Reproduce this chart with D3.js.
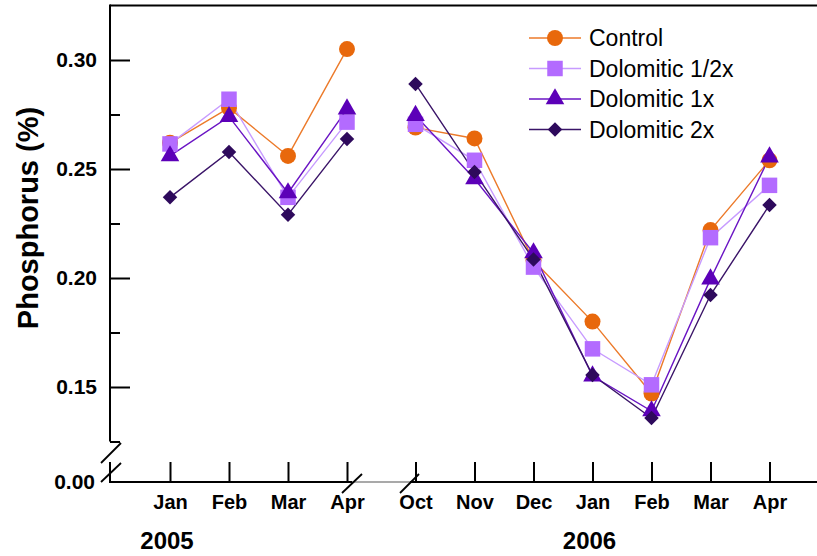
<!DOCTYPE html>
<html>
<head>
<meta charset="utf-8">
<script src="https://cdn.jsdelivr.net/npm/d3@7"></script>
<style>
  html, body { margin: 0; padding: 0; background: #fff; }
  svg { display: block; font-family: "Liberation Sans", Arial, Helvetica, sans-serif; }
</style>
</head>
<body>
<svg id="chart" width="817" height="556"></svg>
<script>
// ---- data ----
const months = ["Jan","Feb","Mar","Apr","Oct","Nov","Dec","Jan","Feb","Mar","Apr"];
const years = ["2005","2006"];
const yearStartIndex = [0, 7];
const seriesNames = ["Control","Dolomitic 1/2x","Dolomitic 1x","Dolomitic 2x"];
const control  = [0.262, 0.278, 0.256, 0.305, 0.269, 0.264, 0.208, 0.180, 0.147, 0.222, 0.254];
const dolHalf  = [0.2615, 0.282, 0.237, 0.2715, 0.2705, 0.254, 0.205, 0.1675, 0.151, 0.2185, 0.2425];
const dolOne   = [0.256, 0.274, 0.239, 0.2775, 0.2745, 0.2455, 0.2115, 0.155, 0.139, 0.1995, 0.2555];
const dolTwo   = [0.237, 0.2578, 0.229, 0.2638, 0.289, 0.2486, 0.2085, 0.1555, 0.1358, 0.1922, 0.2335];
const majorTicks = [0.15, 0.20, 0.25, 0.30];
const minorTicks = [0.125, 0.175, 0.225, 0.275];
const lowerTicks = [0.00];

// ---- styles ----
const styles = [
  {values: control, marker: "#e8680c", line: "#ec7a2a", symbol: d3.symbolCircle, size: 200, rot: 0},
  {values: dolHalf, marker: "#b36bff", line: "#c79bff", symbol: d3.symbolSquare, size: 240, rot: 0},
  {values: dolOne,  marker: "#5c00b8", line: "#6a14c4", symbol: d3.symbolTriangle, size: 150, rot: 0},
  {values: dolTwo,  marker: "#2e0a5c", line: "#3a1468", symbol: d3.symbolSquare, size: 105, rot: 45}
];

const svg = d3.select("#chart");
const axisX0 = 110, axisY0 = 482, rightEdge = 817, topY = 5.5;

// scales
const y = d3.scaleLinear().domain([0.125, 0.325]).range([441.5, topY]);
const yLow = d3.scaleLinear().domain([0, 0.005]).range([axisY0, 462]);
const x = d3.scaleLinear().domain([0, 3, 4, 10]).range([170, 347, 415.5, 769.5]);

const black = "#000";

// frame top line
svg.append("line").attr("x1", axisX0).attr("x2", rightEdge).attr("y1", topY).attr("y2", topY)
  .attr("stroke", black).attr("stroke-width", 2);

// y axis upper segment
svg.append("line").attr("x1", axisX0).attr("x2", axisX0).attr("y1", topY - 1).attr("y2", y(0.125))
  .attr("stroke", black).attr("stroke-width", 2);
// y axis lower segment
svg.append("line").attr("x1", axisX0).attr("x2", axisX0).attr("y1", 462).attr("y2", axisY0 + 1)
  .attr("stroke", black).attr("stroke-width", 2);

const yAxisMajor = d3.axisLeft(y).tickValues(majorTicks).tickFormat(d3.format(".2f"))
  .tickSizeInner(-20).tickSizeOuter(0).tickPadding(13);
const gy = svg.append("g").attr("transform", `translate(${axisX0},0)`).call(yAxisMajor);
gy.select(".domain").remove();
gy.selectAll(".tick line").attr("stroke", black).attr("stroke-width", 2);
gy.selectAll(".tick text").attr("font-size", 21).attr("font-weight", "bold").attr("fill", black);

const yAxisMinor = d3.axisLeft(y).tickValues(minorTicks).tickFormat("").tickSizeInner(-10).tickSizeOuter(0);
const gym = svg.append("g").attr("transform", `translate(${axisX0},0)`).call(yAxisMinor);
gym.select(".domain").remove();
gym.selectAll(".tick line").attr("stroke", black).attr("stroke-width", 2);

const yAxisLow = d3.axisLeft(yLow).tickValues(lowerTicks).tickFormat(d3.format(".2f"))
  .tickSizeInner(0).tickSizeOuter(0).tickPadding(15);
const gyl = svg.append("g").attr("transform", `translate(${axisX0},0)`).call(yAxisLow);
gyl.select(".domain").remove();
gyl.selectAll(".tick text").attr("font-size", 21).attr("font-weight", "bold").attr("fill", black);

// x axis line (with break)
svg.append("line").attr("x1", axisX0 - 1).attr("x2", 352).attr("y1", axisY0).attr("y2", axisY0)
  .attr("stroke", black).attr("stroke-width", 2);
svg.append("line").attr("x1", 352).attr("x2", 410).attr("y1", axisY0).attr("y2", axisY0)
  .attr("stroke", "#555").attr("stroke-width", 1.2);
svg.append("line").attr("x1", 410).attr("x2", rightEdge).attr("y1", axisY0).attr("y2", axisY0)
  .attr("stroke", black).attr("stroke-width", 2);

const xAxis = d3.axisBottom(x).tickValues(d3.range(months.length)).tickFormat(i => months[i])
  .tickSizeInner(-20).tickSizeOuter(0).tickPadding(13);
const gx = svg.append("g").attr("transform", `translate(0,${axisY0})`).call(xAxis);
gx.select(".domain").remove();
gx.selectAll(".tick line").attr("stroke", black).attr("stroke-width", 2);
gx.selectAll(".tick text").attr("font-size", 20).attr("font-weight", "bold").attr("fill", black);

// break marks
const breakMarks = [
  [101, 463, 121, 443], [101, 482, 121, 463],
  [342, 493, 362, 474], [400, 493, 419, 474]
];
svg.selectAll(".brk").data(breakMarks).enter().append("line")
  .attr("x1", d => d[0]).attr("y1", d => d[1]).attr("x2", d => d[2]).attr("y2", d => d[3])
  .attr("stroke", black).attr("stroke-width", 1.8);

// year labels
svg.selectAll(".year").data(years).enter().append("text")
  .attr("x", (d, i) => x(yearStartIndex[i]) - 3).attr("y", 549)
  .attr("text-anchor", "middle").attr("font-size", 24).attr("font-weight", "bold")
  .text(d => d);

// y title
svg.append("text").attr("transform", "translate(38,218) rotate(-90)")
  .attr("text-anchor", "middle").attr("font-size", 29).attr("font-weight", "bold")
  .text("Phosphorus (%)");

// series
const segments = [[0, 3], [4, 10]];
const line = d3.line().x(d => x(d.i)).y(d => y(d.v));
styles.forEach((s, k) => {
  const g = svg.append("g");
  segments.forEach(([a, b]) => {
    const pts = d3.range(a, b + 1).map(i => ({i, v: s.values[i]}));
    g.append("path").attr("d", line(pts)).attr("fill", "none")
      .attr("stroke", s.line).attr("stroke-width", 1.4);
  });
});
styles.forEach((s, k) => {
  const g = svg.append("g");
  g.selectAll("path").data(s.values.map((v, i) => ({i, v}))).enter().append("path")
    .attr("transform", d => `translate(${x(d.i)},${y(d.v)}) rotate(${s.rot})`)
    .attr("d", d3.symbol().type(s.symbol).size(s.size)())
    .attr("fill", s.marker);
});

// legend
const legendY = [38, 68.5, 99, 129.5];
const lg = svg.append("g");
styles.forEach((s, k) => {
  const ly = legendY[k];
  lg.append("line").attr("x1", 529).attr("x2", 581).attr("y1", ly).attr("y2", ly)
    .attr("stroke", s.line).attr("stroke-width", 1.6);
  lg.append("path").attr("transform", `translate(555,${ly}) rotate(${s.rot})`)
    .attr("d", d3.symbol().type(s.symbol).size(s.size)()).attr("fill", s.marker);
  lg.append("text").attr("x", 589).attr("y", ly).attr("dy", "0.35em")
    .attr("font-size", 23).attr("fill", black).text(seriesNames[k]);
});
</script>
</body>
</html>
